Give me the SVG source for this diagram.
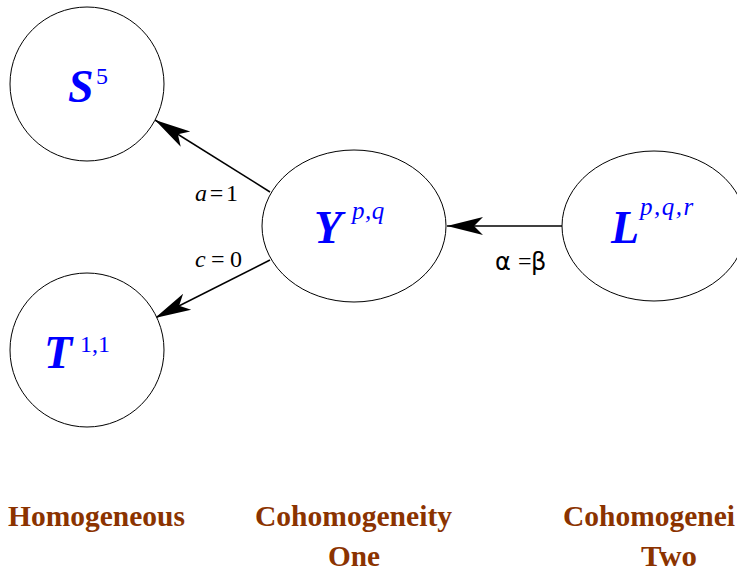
<svg xmlns="http://www.w3.org/2000/svg" width="737" height="571" viewBox="0 0 737 571">
<style>
.node{fill:#fff;stroke:#000;stroke-width:1}
.lab{font-family:"Liberation Serif",serif;font-weight:bold;font-style:italic;font-size:46px;fill:#0000ff}
.sup{font-family:"Liberation Serif",serif;font-size:24px;fill:#0000ff}
.supi{font-family:"Liberation Serif",serif;font-style:italic;font-size:25px;fill:#0000ff}
.edge{stroke:#000;stroke-width:1.5;fill:none}
.el{font-family:"Liberation Serif",serif;font-size:24px;fill:#000}
.gk{font-family:"DejaVu Sans",sans-serif;font-size:24px;fill:#000}
.cap{font-family:"Liberation Serif",serif;font-weight:bold;font-size:30px;fill:#8b3300}
</style>
<defs>
<marker id="ah" markerUnits="userSpaceOnUse" viewBox="-36 -10 37 20" refX="0" refY="0" markerWidth="37" markerHeight="20" orient="auto">
<path d="M0,0 L-36,-9 L-27,0 L-36,9 Z" fill="#000"/>
</marker>
</defs>
<g id="connectors">
<line class="edge" x1="270" y1="192" x2="155" y2="120" marker-end="url(#ah)"/>
<line class="edge" x1="270" y1="260" x2="155" y2="318" marker-end="url(#ah)"/>
<line class="edge" x1="562" y1="226" x2="447" y2="226" marker-end="url(#ah)"/>
<text class="el" x="195" y="201" textLength="43" lengthAdjust="spacing"><tspan font-style="italic">a</tspan>=1</text>
<text class="el" x="195" y="267" textLength="47" lengthAdjust="spacing"><tspan font-style="italic">c</tspan>=0</text>
<text class="gk" x="495" y="270">α</text>
<text class="el" x="518" y="269" font-size="14px">=</text>
<text class="gk" x="531" y="270">β</text>
</g>
<g id="S5">
<circle class="node" cx="87" cy="84" r="77"/>
<text class="lab" x="68" y="102">S</text>
<text class="sup" x="96" y="84">5</text>
</g>
<g id="T11">
<circle class="node" cx="87" cy="350" r="77"/>
<text class="lab" x="44" y="368">T</text>
<text class="sup" x="80" y="352">1,1</text>
</g>
<g id="Ypq">
<ellipse class="node" cx="354" cy="226" rx="92" ry="76"/>
<text class="lab" x="314" y="243">Y</text>
<text class="supi" x="352" y="219" letter-spacing="0.5">p,q</text>
</g>
<g id="Lpqr">
<ellipse class="node" cx="654" cy="226" rx="92" ry="75"/>
<text class="lab" x="611" y="243">L</text>
<text class="supi" x="640" y="215" letter-spacing="1.5">p,q,r</text>
</g>
<g id="captions">
<text class="cap" x="8" y="526" textLength="177" lengthAdjust="spacingAndGlyphs">Homogeneous</text>
<text class="cap" x="255" y="526" textLength="197" lengthAdjust="spacingAndGlyphs">Cohomogeneity</text>
<text class="cap" x="328" y="566" textLength="52" lengthAdjust="spacingAndGlyphs">One</text>
<text class="cap" x="563" y="526" textLength="172" lengthAdjust="spacingAndGlyphs">Cohomogenei</text>
<text class="cap" x="641" y="566" textLength="56" lengthAdjust="spacingAndGlyphs">Two</text>
</g>
</svg>
